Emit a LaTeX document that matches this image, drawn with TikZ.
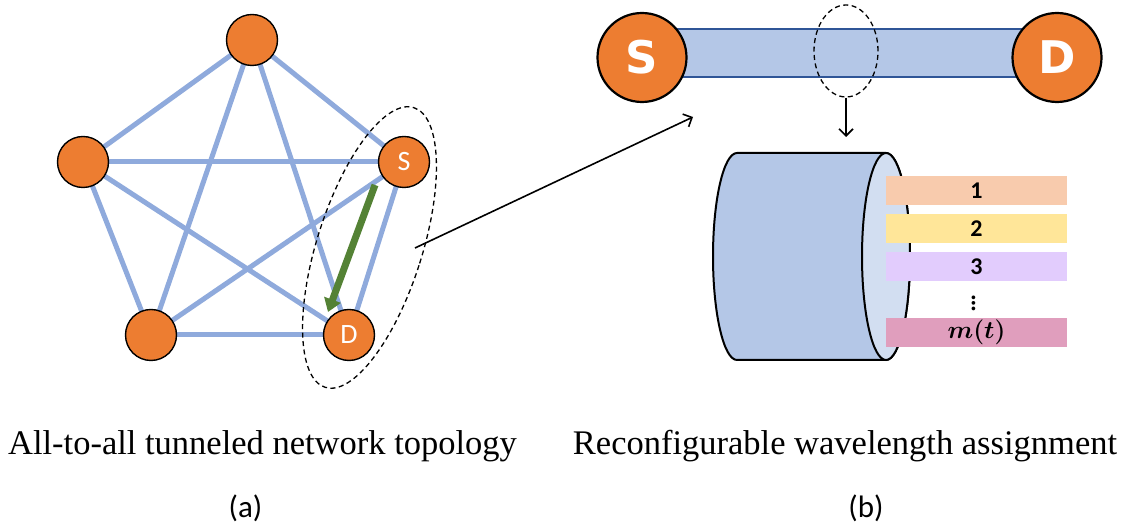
\documentclass[tikz,border=0pt]{standalone}
\usepackage{fontspec}
\usepackage{amsmath}
\usepackage{bm}
\usetikzlibrary{arrows.meta,shapes.geometric}
\newfontfamily\capfont{Liberation Serif}
\newfontfamily\calfont{Carlito}
\newfontfamily\heavyfont{DejaVu Sans}
\definecolor{nodeorange}{HTML}{ED7D31}
\definecolor{linkblue}{HTML}{8FAADC}
\definecolor{pathgreen}{HTML}{548235}
\definecolor{pipefill}{HTML}{B4C7E7}
\definecolor{pipeedge}{HTML}{2F5597}
\definecolor{facefill}{HTML}{D2DEF1}
\definecolor{lamA}{HTML}{F8CBAD}
\definecolor{lamB}{HTML}{FFE699}
\definecolor{lamC}{HTML}{E2CCFD}
\definecolor{lamM}{HTML}{E09EBD}
\begin{document}
\begin{tikzpicture}[x=1pt,y=1pt,
  vertex/.style={circle,draw=black,line width=1.4pt,fill=nodeorange,minimum size=51pt,inner sep=0pt,
    text=white,font=\calfont\fontsize{28}{28}\selectfont},
  endpoint/.style={circle,draw=black,line width=2.2pt,fill=nodeorange,minimum size=89pt,inner sep=0pt,
    text=white,font=\heavyfont\bfseries\fontsize{45}{45}\selectfont},
  link/.style={linkblue,line width=5pt},
  pointer/.style={black,line width=1.6pt,-{Straight Barb[length=7pt,width=14pt,line width=1.6pt]}},
  zone/.style={black,line width=1.3pt,dash pattern=on 5pt off 3.5pt},
  lambda/.style={minimum width=181pt,minimum height=29pt,inner sep=0pt,
    font=\calfont\bfseries\fontsize{24}{24}\selectfont},
  caption/.style={font=\capfont\fontsize{34.5}{40}\selectfont,anchor=base},
  tag/.style={font=\calfont\fontsize{31}{34}\selectfont,anchor=base}
]
\useasboundingbox (0,0) rectangle (1124,529);

% ---------- (a) full mesh of five nodes ----------
\coordinate (pT) at (252,489);
\coordinate (pL) at (83,367);
\coordinate (pS) at (404,367);
\coordinate (pD) at (349,194);
\coordinate (pB) at (151,194);
\foreach \u/\v in {pT/pL,pT/pS,pT/pD,pT/pB,pL/pS,pL/pD,pL/pB,pS/pD,pS/pB,pD/pB}
  \draw[link] (\u) -- (\v);
\node[vertex] (nT) at (pT) {};
\node[vertex] (nL) at (pL) {};
\node[vertex] (nS) at (pS) {S};
\node[vertex] (nD) at (pD) {D};
\node[vertex] (nB) at (pB) {};

% tunnel from S to D
\coordinate (gS) at (375,344);
\coordinate (gD) at (328,217);
\draw[pathgreen,line width=7pt,-{Triangle[length=13pt,width=17pt]}] (gS) -- (gD);

% highlighted S-D pair
\draw[zone,rotate around={-17.6:(369.5,281.5)}] (369.5,281.5) ellipse [x radius=52.6,y radius=146.7];

% ---------- (b) one tunnel ----------
\coordinate (tS) at (642,471.5);
\coordinate (tD) at (1057,471.5);
\fill[pipefill] (642,452) rectangle (1057,500);
\draw[pipeedge,line width=1.6pt] (642,452) -- (1057,452);
\draw[pipeedge,line width=1.6pt] (642,500) -- (1057,500);
\node[endpoint] (bS) at (tS) {S};
\node[endpoint] (bD) at (tD) {D};
\node[zone,draw,ellipse,minimum width=64pt,minimum height=92pt] (cut) at (846,478) {};
\coordinate (cutDown) at (846,392);

% zoom from the pair onto the tunnel
\coordinate (zFrom) at (415,281);
\coordinate (zTo) at (693,412);
\draw[pointer] (zFrom) -- (zTo);
\draw[pointer] (cut.south) -- (cutDown);

% fibre cross-section
\path[fill=pipefill,draw=black,line width=2pt]
  (886,376) -- (737,376)
  arc[start angle=90,end angle=270,x radius=24,y radius=103.5]
  -- (886,169)
  arc[start angle=-90,end angle=90,x radius=24,y radius=103.5] -- cycle;
\draw[fill=facefill,line width=2pt] (886,272.5) ellipse [x radius=24,y radius=103.5];

% wavelength channels
\node[lambda,fill=lamA] (w1) at (976.5,338.5) {1};
\node[lambda,fill=lamB] (w2) at (976.5,300.5) {2};
\node[lambda,fill=lamC] (w3) at (976.5,262) {3};
\node[inner sep=0pt,rotate=-90,font=\calfont\bfseries\fontsize{25}{25}\selectfont] (wd) at (973.5,226) {…};
\node[lambda,fill=lamM,font=\fontsize{23}{23}\selectfont\boldmath] (wm) at (976.5,196.5) {$m(t)$};

% ---------- captions ----------
\node[caption] (capA) at (262.5,74) {All-to-all tunneled network topology};
\node[caption] (capB) at (845,74) {Reconfigurable wavelength assignment};
\node[tag] (tagA) at (245.5,11) {(a)};
\node[tag] (tagB) at (866,11) {(b)};
\end{tikzpicture}
\end{document}
